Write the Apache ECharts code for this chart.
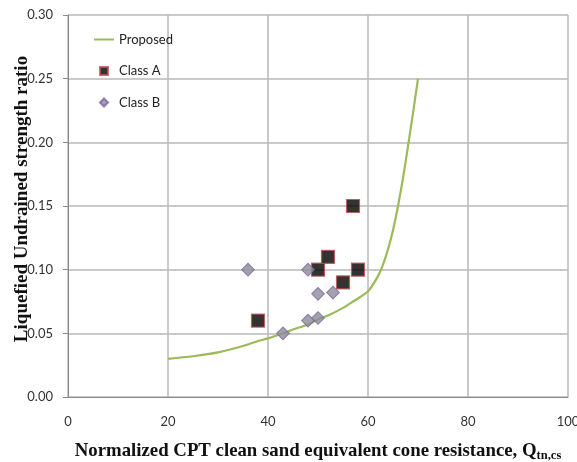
<!DOCTYPE html>
<html><head><meta charset="utf-8">
<script src="https://cdn.jsdelivr.net/npm/echarts@6/dist/echarts.min.js"></script>
<style>html,body{margin:0;padding:0;background:#fff}#c{width:577px;height:462px}</style>
</head><body><div id="c"></div>
<script>
const proposedX = [20, 25, 30, 35, 38, 40, 43, 45, 48, 50, 52, 55, 57, 60, 62, 63, 64, 65, 66, 67, 68, 69, 70];
const proposedY = [0.030, 0.032, 0.035, 0.040, 0.044, 0.046, 0.050, 0.053, 0.057, 0.061, 0.064, 0.070, 0.075, 0.083, 0.095, 0.104, 0.116, 0.131, 0.150, 0.172, 0.197, 0.223, 0.250];
const classAX = [38, 50, 52, 57, 55, 58];
const classAY = [0.06, 0.10, 0.11, 0.15, 0.09, 0.10];
const classBX = [36, 48, 50, 53, 48, 50, 43];
const classBY = [0.10, 0.10, 0.081, 0.082, 0.060, 0.062, 0.050];
const xTicks = [0, 20, 40, 60, 80, 100];
const yTicks = [0, 0.05, 0.10, 0.15, 0.20, 0.25, 0.30];

const zip = (a, b) => a.map((v, i) => [v, b[i]]);
const chart = echarts.init(document.getElementById('c'), null, {renderer: 'canvas'});
chart.setOption({
  animation: false,
  backgroundColor: '#fff',
  grid: {left: 68, right: 9, top: 15, bottom: 65, containLabel: false, outerBoundsMode: 'none'},
  legend: {
    left: 93, top: 33, padding: 0, orient: 'vertical', itemGap: 18.5,
    itemWidth: 20, itemHeight: 8,
    textStyle: {fontFamily: 'Lato', fontSize: 13, color: '#222'},
    data: [
      {name: 'Proposed', itemStyle: {color: 'rgba(0,0,0,0)', borderWidth: 0}},
      {name: 'Class A', icon: 'path://M0,0L10,0L10,10L0,10Z'},
      {name: 'Class B', icon: 'path://M5,0L10,5L5,10L0,5Z'}
    ]
  },
  graphic: [{
    type: 'text', x: 22, y: 199,
    rotation: Math.PI / 2,
    style: {
      text: 'Liquefied Undrained strength ratio',
      fontFamily: 'Liberation Serif', fontWeight: 'bold', fontSize: 19, fill: '#111',
      align: 'center', verticalAlign: 'middle'
    }
  }],
  xAxis: {
    type: 'value', min: xTicks[0], max: xTicks[xTicks.length - 1], interval: 20,
    axisLine: {show: true, lineStyle: {color: '#8a8a8a', width: 1}},
    axisTick: {show: false},
    axisLabel: {margin: 18, fontFamily: 'Lato', fontSize: 13, color: '#333'},
    splitLine: {show: true, lineStyle: {color: '#b8b8b8', width: 1.5}},
    name: '{a|Normalized CPT clean sand equivalent cone resistance, Q}{s|tn,cs}',
    nameLocation: 'middle', nameGap: 43,
    nameTextStyle: {
      rich: {
        a: {fontFamily: 'Liberation Serif', fontWeight: 'bold', fontSize: 18.8, color: '#111'},
        s: {fontFamily: 'Liberation Serif', fontWeight: 'bold', fontSize: 12.5, color: '#111', padding: [9, 0, 0, 0]}
      }
    }
  },
  yAxis: {
    type: 'value', min: yTicks[0], max: yTicks[yTicks.length - 1], interval: 0.05,
    axisLine: {show: true, lineStyle: {color: '#8a8a8a', width: 1}},
    axisTick: {show: true, length: 5, lineStyle: {color: '#8a8a8a'}},
    axisLabel: {margin: 15, fontFamily: 'Lato', fontSize: 13, color: '#333', formatter: v => v.toFixed(2)},
    splitLine: {show: true, lineStyle: {color: '#b8b8b8', width: 1.5}}
  },
  series: [
    {
      name: 'Proposed', type: 'line', smooth: 0.3, showSymbol: false, symbol: 'none',
      lineStyle: {color: '#9BBB59', width: 2.2}, itemStyle: {color: '#9BBB59'},
      data: zip(proposedX, proposedY), z: 2
    },
    {
      name: 'Class A', type: 'scatter', symbol: 'rect', symbolSize: 13,
      itemStyle: {color: '#000', borderColor: '#C0504D', borderWidth: 1.2},
      data: zip(classAX, classAY), z: 3
    },
    {
      name: 'Class B', type: 'scatter', symbol: 'rect', symbolSize: 9, symbolRotate: 45,
      itemStyle: {color: '#8C8C9A', borderColor: '#8064A2', borderWidth: 1},
      data: zip(classBX, classBY), z: 4
    }
  ]
});
</script></body></html>
